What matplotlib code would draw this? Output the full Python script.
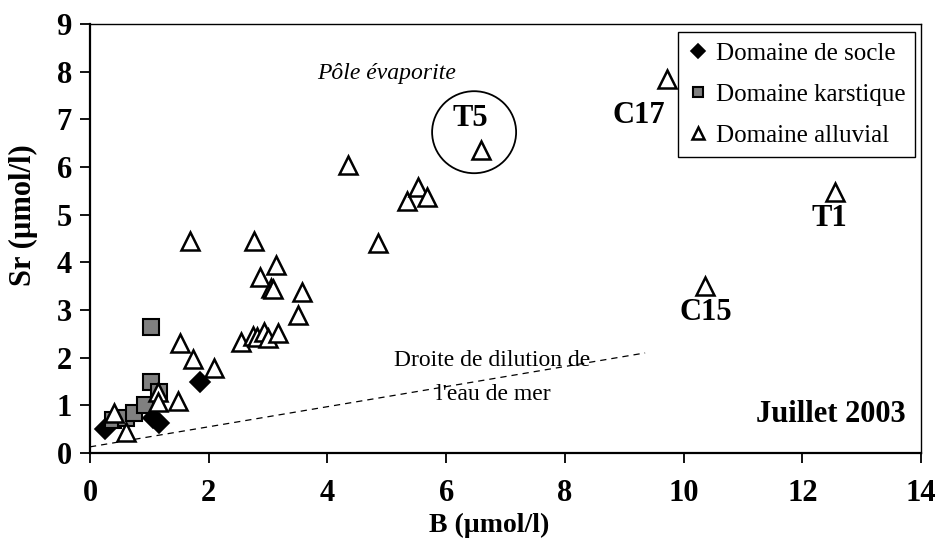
import matplotlib
matplotlib.use("Agg")
import matplotlib.pyplot as plt
from matplotlib.patches import Ellipse

plt.rcParams['font.family'] = ['Liberation Serif', 'DejaVu Serif']

# B and Sr concentrations (µmol/l), July 2003
socle_b = [0.25, 1.07, 1.17, 1.85]
socle_sr = [0.50, 0.73, 0.63, 1.50]

karst_b = [0.39, 0.60, 0.75, 0.92, 1.03, 1.03, 1.17]
karst_sr = [0.69, 0.73, 0.83, 1.01, 1.50, 2.64, 1.29]

alluv_b = [0.40, 0.61, 1.15, 1.15, 1.48,
           1.52, 1.73, 2.09,
           2.54, 2.75, 2.81, 2.93, 3.00, 3.17,
           3.50, 3.57, 3.05, 3.08, 2.86, 3.13,
           1.68, 2.76,
           4.35, 4.85, 5.34, 5.53, 5.67,
           6.59, 9.72, 10.36, 12.55]
alluv_sr = [0.84, 0.45, 1.29, 1.08, 1.10,
            2.31, 1.97, 1.78,
            2.33, 2.45, 2.43, 2.54, 2.41, 2.52,
            2.89, 3.38, 3.47, 3.44, 3.69, 3.94,
            4.45, 4.45,
            6.04, 4.40, 5.29, 5.58, 5.37,
            6.36, 7.85, 3.50, 5.48]

# seawater dilution line
dilution_b = [0.0, 9.35]
dilution_sr = [0.13, 2.10]

# named samples: label, x, y
sample_names = ['T5', 'C17', 'C15', 'T1']
name_b = [6.41, 9.25, 10.38, 12.45]
name_sr = [7.01, 7.08, 2.95, 4.91]

fig = plt.figure(figsize=(9.4, 5.4), dpi=100)
ax = fig.add_axes([0.0957, 0.161, 0.8843, 0.7946])

ax.plot(dilution_b, dilution_sr, linestyle=(0, (5, 4)), color='black', lw=0.9)

ax.plot(socle_b, socle_sr, linestyle='none', marker='D', ms=10, mfc='black',
        mec='black', mew=1.2, label='Domaine de socle', zorder=3)
ax.plot(karst_b, karst_sr, linestyle='none', marker='s', ms=11, mfc='#808080',
        mec='black', mew=1.5, label='Domaine karstique', zorder=3)
ax.plot(alluv_b, alluv_sr, linestyle='none', marker='^', ms=13, mfc='white',
        mec='black', mew=1.8, label='Domaine alluvial', zorder=4)

for name, bx, sy in zip(sample_names, name_b, name_sr):
    ax.text(bx, sy, name, ha='center', va='center', fontsize=22,
            fontweight='bold')

ax.add_patch(Ellipse((6.47, 6.73), 1.415, 1.72, fill=False, edgecolor='black',
                     lw=1.3))

ax.text(5.0, 7.97, 'Pôle évaporite', ha='center', va='center', fontsize=17,
        style='italic')
ax.text(6.78, 1.95, 'Droite de dilution de', ha='center', va='center',
        fontsize=17)
ax.text(6.80, 1.22, "l'eau de mer", ha='center', va='center', fontsize=17)
ax.text(13.73, 0.80, 'Juillet 2003', ha='right', va='center', fontsize=22,
        fontweight='bold')

ax.set_xlim(0, 14)
ax.set_ylim(0, 9)
ax.set_xticks(range(0, 15, 2))
ax.set_yticks(range(0, 10))
ax.tick_params(axis='both', direction='out', length=7, width=1.3,
               labelsize=22)
ax.tick_params(axis='x', pad=12)
ax.tick_params(axis='y', pad=6)
for lab in ax.get_xticklabels() + ax.get_yticklabels():
    lab.set_fontweight('bold')

for side in ['left', 'bottom']:
    ax.spines[side].set_linewidth(1.6)
for side in ['top', 'right']:
    ax.spines[side].set_linewidth(1.0)

ax.set_xlabel('B (µmol/l)', fontsize=20, fontweight='bold')
ax.set_ylabel('Sr (µmol/l)', fontsize=22, fontweight='bold')
ax.xaxis.set_label_coords(0.48, -0.14)
ax.yaxis.set_label_coords(-0.062, 0.555)

leg = ax.legend(loc='upper right', bbox_to_anchor=(0.993, 0.981),
                borderaxespad=0, fontsize=18, frameon=True, fancybox=False,
                framealpha=1, edgecolor='black', handlelength=0.8,
                handletextpad=0.3, borderpad=0.4, labelspacing=0.75,
                markerscale=0.7)
leg.get_frame().set_linewidth(1.0)

fig.savefig('out.png', dpi=100)
